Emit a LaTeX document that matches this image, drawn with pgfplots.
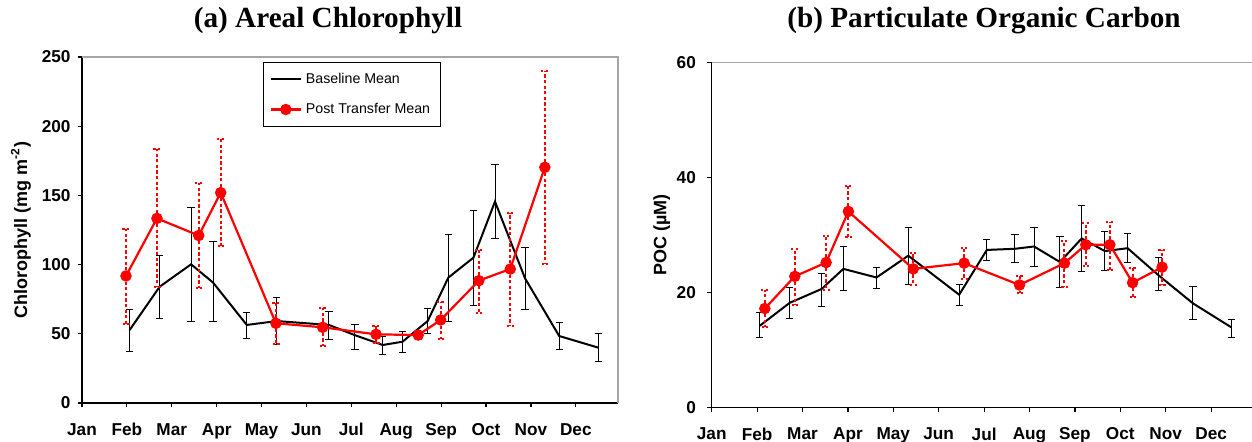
\documentclass[border=0pt]{standalone}
\usepackage{pgfplots}
\pgfplotsset{compat=1.18}
\usepackage{fontspec}
\setmainfont{Liberation Sans}
\newfontfamily\titlefont{Liberation Serif}

\definecolor{pred}{RGB}{255,0,0}

\pgfplotsset{
  chartbase/.style={
    scale only axis, anchor=south west,
    xmin=0, ymin=0,
    xtick={0,1,2,3,4,5,6,7,8,9,10,11},
    xticklabels={Jan,Feb,Mar,Apr,May,Jun,Jul,Aug,Sep,Oct,Nov,Dec},
    axis x line*=bottom, axis y line*=left,
    axis line style={line width=0.7pt,-},
    tick align=outside, major tick length=2.2pt,
    tick style={line width=0.6pt, black},
    /pgf/number format/assume math mode=true,
    tick label style={font=\fontsize{8.6}{9.6}\selectfont\bfseries},
    xticklabel style={yshift=-4.5pt},
    ylabel style={anchor=center, font=\fontsize{9}{10}\selectfont\bfseries},
    clip=false,
  },
  baseplot/.style={
    black, line width=1pt, mark=none,
    error bars/.cd, y dir=both, y explicit,
    error bar style={line width=0.5pt, black, solid},
    error mark options={rotate=90, mark size=1.8pt, line width=0.5pt, black, solid},
  },
  postplot/.style={
    pred, line width=1.1pt, mark=*, mark size=2.3pt,
    mark options={solid, fill=pred, draw=pred},
    error bars/.cd, y dir=both, y explicit,
    error bar style={line width=1pt, pred, dash pattern=on 1.6pt off 1.2pt},
    error mark options={rotate=90, mark size=1.8pt, line width=1pt, pred, dash pattern=on 1.1pt off 1.1pt},
  },
}

\pgfplotstableread{
x y ep em
1.06 52.7 15.0 15.7
1.73 84.0 22.4 22.8
2.43 100.2 40.8 41.4
2.92 87.0 29.8 28.2
3.67 56.4 9.1 9.7
4.34 59.2 16.8 16.6
5.50 56.4 9.6 10.4
6.08 49.0 8.0 10.2
6.70 41.9 6.1 6.7
7.14 44.3 7.0 7.5
7.70 59.2 9.2 8.9
8.16 90.6 31.3 31.8
8.72 105.0 34.0 34.2
9.20 145.5 27.0 26.5
9.87 90.0 22.0 22.3
10.63 48.4 9.6 10.1
11.50 40.0 9.9 10.1
}\chlbase

\pgfplotstableread{
x y ep em
0.98 91.8 33.9 34.8
1.67 133.4 49.9 49.4
2.60 121.0 38.2 37.7
3.09 152.0 38.5 38.6
4.32 57.6 14.9 15.0
5.36 54.7 13.7 13.5
6.55 49.6 6.3 6.5
7.49 49.1 3.0 3.0
7.99 60.0 13.2 13.8
8.84 88.4 22.1 23.1
9.54 96.8 40.7 40.9
10.31 170.3 69.8 69.9
}\chlpost

\pgfplotstableread{
x y ep em
1.06 14.2 2.3 2.1
1.72 18.2 2.6 2.7
2.42 20.6 2.7 3.1
2.90 24.1 3.9 3.8
3.63 22.6 1.7 1.9
4.33 26.4 4.9 5.0
5.45 19.6 1.7 1.8
6.06 27.4 1.9 1.9
6.68 27.6 2.4 2.4
7.10 28.0 3.3 3.5
7.67 25.3 4.4 4.5
8.15 29.4 5.8 5.7
8.66 27.2 3.4 3.3
9.16 27.7 2.6 2.5
9.84 23.0 3.0 2.6
10.60 18.1 2.9 2.9
11.45 13.9 1.4 1.8
}\pocbase

\pgfplotstableread{
x y ep em
1.17 17.2 3.2 3.3
1.83 22.8 4.8 5.0
2.52 25.2 4.7 4.8
3.01 34.1 4.5 4.5
4.44 24.1 2.8 2.8
5.56 25.1 2.7 2.8
6.78 21.3 1.6 1.4
7.77 25.1 3.9 4.1
8.24 28.3 3.8 3.7
8.77 28.3 4.0 4.4
9.27 21.7 2.6 2.5
9.92 24.4 3.0 3.1
}\pocpost

\begin{document}
\begin{tikzpicture}
\useasboundingbox (0,0) rectangle (626pt,221pt);

\node[anchor=base, font=\titlefont\bfseries\fontsize{14.6}{16}\selectfont] at (164pt,207pt) {(a) Areal Chlorophyll};
\node[anchor=base, font=\titlefont\bfseries\fontsize{14.6}{16}\selectfont] at (492pt,207pt) {(b) Particulate Organic Carbon};

\begin{axis}[chartbase,
  at={(41pt,19.5pt)}, width=268pt, height=173pt,
  xmax=11.94, ymax=250, ytick={0,50,100,150,200,250},
  ylabel={Chlorophyll (mg m\textsuperscript{-2})},
  ylabel style={at={(axis description cs:-0.114,0.5)}},
  legend style={at={(rel axis cs:0.338,0.985)}, anchor=north west,
    draw=black, line width=0.6pt, fill=white,
    font=\fontsize{7.1}{8.5}\selectfont, row sep=4.4pt,
    inner xsep=3pt, inner ysep=3pt},
  legend cell align=left,
  legend image code/.code={\draw[mark repeat=2,mark phase=2,#1] plot coordinates {(0pt,0pt) (7.5pt,0pt) (15pt,0pt)};},
]
\draw[gray!70, line width=0.7pt] (rel axis cs:0,1) -- (rel axis cs:1,1) -- (rel axis cs:1,0);
\addplot[baseplot] table[x=x, y=y, y error plus=ep, y error minus=em] {\chlbase};
\addlegendentry{Baseline Mean}
\addplot[postplot] table[x=x, y=y, y error plus=ep, y error minus=em] {\chlpost};
\addlegendentry{Post Transfer Mean}
\end{axis}

\begin{axis}[chartbase,
  at={(355.85pt,17.35pt)}, width=272.4pt, height=172.3pt,
  xmax=12, ymax=60, ytick={0,20,40,60},
  yticklabel style={xshift=-2.2pt},
  ylabel={POC (µM)},
  ylabel style={at={(axis description cs:-0.0918,0.5)}},
]
\draw[gray!70, line width=0.7pt] (rel axis cs:0,1) -- (rel axis cs:1,1) -- (rel axis cs:1,0);
\addplot[baseplot] table[x=x, y=y, y error plus=ep, y error minus=em] {\pocbase};
\addplot[postplot] table[x=x, y=y, y error plus=ep, y error minus=em] {\pocpost};
\end{axis}
\end{tikzpicture}
\end{document}
